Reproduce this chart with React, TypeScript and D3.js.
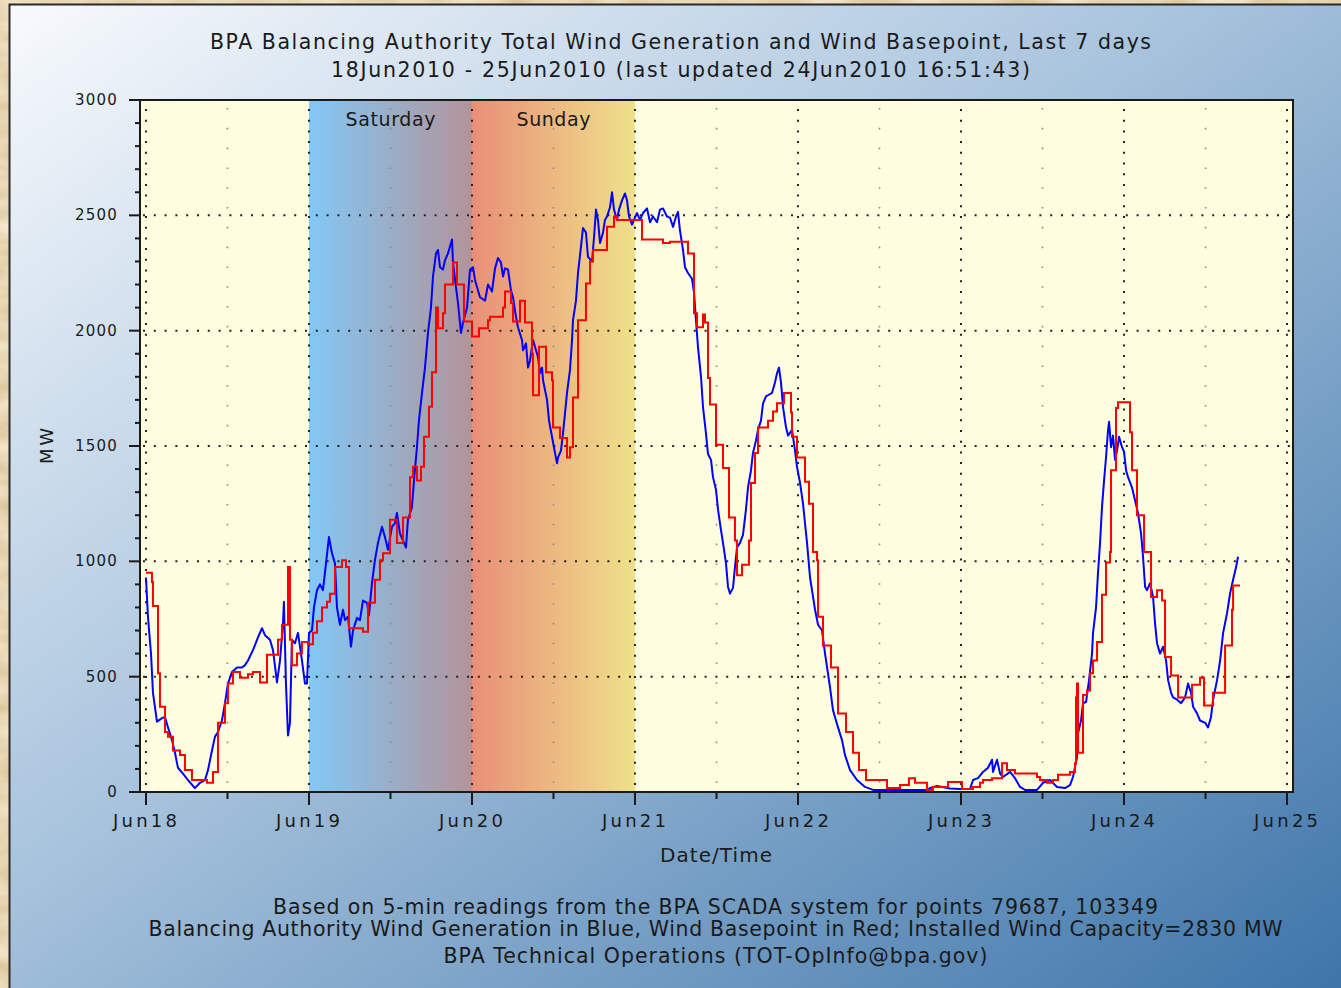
import React from "react";
import * as d3 from "d3";

// ---------- data ----------
// hours after 18Jun2010 00:00, MW
const blueHours = [0.0,0.29,0.74,1.03,1.62,2.36,2.80,3.24,3.83,4.27,4.71,5.45,6.18,7.21,7.95,8.69,9.13,9.72,10.16,10.60,11.19,11.63,12.07,12.66,13.40,14.13,14.58,15.02,15.75,16.49,17.08,17.52,18.26,18.70,19.29,19.73,20.17,20.31,20.61,20.91,21.20,21.49,21.94,22.38,22.97,23.41,23.71,24.00,24.44,24.73,25.18,25.62,26.06,26.50,26.94,27.39,27.83,28.12,28.56,29.01,29.30,29.74,30.18,30.48,31.07,31.51,31.95,32.54,32.83,33.27,33.71,34.16,34.75,35.19,35.63,36.22,36.66,36.95,37.40,37.84,38.28,38.57,39.16,39.46,39.90,40.19,40.64,41.08,41.52,41.96,42.26,42.70,42.99,43.29,43.73,44.02,44.47,45.06,45.20,45.64,45.94,46.38,46.68,47.27,47.71,48.15,48.44,49.18,49.92,50.36,50.95,51.39,51.83,52.27,52.57,52.86,53.30,53.74,54.04,54.48,54.77,55.36,55.51,55.95,56.25,56.54,56.98,57.28,57.72,58.01,58.31,58.46,59.05,59.34,59.78,60.22,60.52,60.66,61.10,61.40,61.69,61.99,62.43,62.73,62.87,63.31,63.61,64.05,64.34,64.78,65.08,65.67,65.97,66.26,66.55,66.85,67.29,67.58,67.88,68.32,68.62,68.91,69.35,69.65,70.09,70.53,70.82,71.12,71.56,71.85,72.30,72.74,73.18,73.77,74.21,74.65,75.24,75.68,76.12,76.71,77.15,77.60,78.04,78.33,78.62,79.07,79.36,79.80,80.39,80.69,80.98,81.27,81.72,82.01,82.45,82.75,83.19,83.48,83.93,84.22,84.66,84.96,85.40,85.69,85.99,86.43,86.72,87.02,87.46,87.90,88.34,88.64,89.08,89.37,89.82,90.11,90.55,90.85,91.29,91.58,92.17,92.61,92.91,93.20,93.50,93.79,94.24,94.53,95.12,95.56,95.85,96.30,96.74,97.03,97.33,97.77,98.06,98.51,98.95,99.54,99.98,100.71,101.15,101.89,102.48,102.92,103.66,104.69,105.87,107.05,111.02,115.0,115.44,116.47,118.38,119.86,121.33,121.77,122.50,123.24,123.98,124.57,124.71,125.30,125.75,126.19,127.22,127.95,128.69,129.42,131.19,132.08,133.11,134.14,135.31,136.05,136.49,137.08,137.23,137.67,137.96,138.41,138.85,139.29,139.44,139.88,140.17,140.47,140.76,141.06,141.35,141.65,141.80,142.09,142.38,142.68,142.97,143.27,143.71,144.00,144.30,144.59,145.18,145.62,146.06,146.51,146.80,147.10,147.39,147.83,148.28,148.57,148.86,149.31,149.75,150.19,150.49,150.93,151.22,151.81,152.40,152.99,153.43,153.87,154.17,154.76,155.19,155.94,156.37,156.81,157.11,157.70,158.15,158.59,159.17,159.61,160.06,160.50,160.79];
const blueMW = [930,760,600,430,305,320,325,280,225,170,105,80,52,17,40,52,95,180,240,260,310,385,470,520,540,540,550,570,615,670,710,680,660,615,475,570,730,825,470,245,300,660,645,690,570,470,470,690,700,800,875,900,875,990,1105,1035,990,800,725,790,745,760,630,700,755,745,830,820,765,905,1005,1080,1150,1105,1050,1150,1165,1210,1120,1090,1060,1180,1235,1350,1495,1610,1730,1840,1990,2100,2235,2335,2350,2275,2265,2305,2335,2395,2295,2190,2120,1990,2035,2100,2265,2275,2220,2145,2130,2200,2170,2270,2315,2295,2235,2270,2265,2175,2145,2060,2015,1960,1915,1945,1840,1870,1960,1930,1885,1815,1840,1785,1700,1610,1540,1470,1425,1450,1480,1555,1640,1730,1830,1960,2045,2130,2250,2365,2445,2425,2320,2300,2405,2525,2480,2380,2425,2480,2495,2535,2600,2525,2480,2525,2565,2595,2565,2495,2460,2480,2510,2480,2510,2530,2470,2495,2470,2525,2530,2495,2490,2450,2495,2515,2435,2350,2275,2250,2225,2165,2045,1930,1800,1670,1555,1465,1440,1365,1310,1225,1135,1080,990,890,860,885,975,1060,1080,1115,1225,1320,1395,1470,1525,1570,1610,1685,1715,1720,1730,1775,1815,1840,1775,1670,1580,1545,1570,1480,1410,1340,1250,1165,1080,930,875,790,725,700,600,455,355,280,225,160,95,52,22,9,9,9,17,26,15,13,13,52,60,87,105,140,87,140,80,65,87,60,22,9,9,40,52,22,17,30,65,150,255,310,385,390,485,600,690,800,950,1080,1235,1350,1450,1570,1605,1495,1545,1440,1480,1540,1495,1475,1395,1365,1320,1265,1210,1120,1020,890,875,905,845,730,645,600,630,570,485,430,410,400,385,410,470,430,370,340,310,300,280,325,400,485,570,690,775,860,920,975,1020];

// red basepoint is a step series: value holds from its hour until the next one
const redHours = [0.0,0.88,1.03,1.77,2.06,2.80,3.24,3.98,5.01,5.74,6.77,8.98,9.87,10.60,11.63,12.07,12.81,13.84,15.02,15.75,16.79,17.82,19.44,20.02,20.91,21.20,21.49,22.23,22.97,23.85,24.59,25.18,25.92,26.65,27.09,27.83,28.86,29.45,29.89,31.95,32.69,33.71,34.45,34.90,35.92,36.95,37.84,38.87,39.31,39.90,40.49,40.93,41.67,42.11,42.70,42.99,43.73,44.02,45.20,45.79,46.82,48.00,49.03,50.36,50.65,52.57,52.86,53.74,54.04,55.07,55.80,56.83,56.98,57.87,58.90,59.78,59.93,60.96,61.99,62.43,62.87,63.61,64.78,65.38,65.82,67.88,68.91,69.35,73.03,76.12,77.15,79.80,80.69,81.13,82.01,82.31,82.75,83.04,83.93,84.96,85.84,86.72,87.02,87.76,88.79,89.08,89.67,90.11,91.58,92.32,92.91,93.94,94.97,95.12,95.85,97.03,97.62,98.21,98.80,98.95,99.68,100.86,101.89,103.07,104.10,104.98,106.01,109.11,111.02,112.34,113.23,115.0,115.88,118.09,120.15,121.77,122.80,123.24,124.57,126.04,126.77,127.95,131.19,131.63,132.67,133.55,134.28,136.05,136.78,136.93,137.08,137.23,137.96,138.55,138.99,139.44,140.03,140.76,141.35,141.94,142.09,142.82,143.12,144.88,145.18,145.91,146.95,147.98,148.86,149.60,150.04,150.93,151.96,154.02,155.19,155.78,157.11,158.88,159.90,160.06,161.08];
const redMW = [950,910,806,515,370,260,240,180,160,95,52,40,87,300,385,470,520,495,510,520,475,595,660,725,975,660,550,600,650,640,690,740,800,825,860,975,1005,975,710,695,820,920,1005,1035,1180,1080,1190,1365,1410,1350,1410,1540,1670,1820,2100,2010,2075,2200,2295,2200,2040,1975,2010,2045,2060,2100,2170,2120,2040,2130,2035,1900,1720,1930,1820,1785,1580,1535,1450,1495,1710,2045,2205,2300,2350,2450,2495,2480,2395,2380,2385,2335,2075,2015,2070,2035,1795,1680,1505,1405,1190,1090,940,985,1090,1340,1470,1580,1610,1650,1685,1730,1645,1540,1450,1345,1250,1040,1005,760,635,540,340,260,170,95,52,17,30,60,40,9,22,43,13,22,40,52,60,125,95,80,65,52,40,52,75,87,125,410,470,170,420,440,515,570,650,855,995,1040,1395,1665,1690,1560,1395,1200,1040,845,875,830,585,505,410,465,495,375,430,635,790,895,895];

const yTicks = [0, 500, 1000, 1500, 2000, 2500, 3000];
const dayTicks = ["2010-06-18", "2010-06-19", "2010-06-20", "2010-06-21", "2010-06-22", "2010-06-23", "2010-06-24", "2010-06-25"];
const weekendLabels = ["Saturday", "Sunday"];
const weekendStarts = ["2010-06-19", "2010-06-20"];
const titleLines = [
  "BPA Balancing Authority Total Wind Generation and Wind Basepoint, Last 7 days",
  "18Jun2010 - 25Jun2010 (last updated 24Jun2010 16:51:43)",
];
const footerLines = [
  "Based on 5-min readings from the BPA SCADA system for points 79687, 103349",
  "Balancing Authority Wind Generation in Blue, Wind Basepoint in Red; Installed Wind Capacity=2830 MW",
  "BPA Technical Operations (TOT-OpInfo@bpa.gov)",
];

// ---------- layout ----------
const W = 1341, H = 988;
const PL = 140, PR = 1293, PT = 100, PB = 792;
const FONT = "'DejaVu Sans', Verdana, sans-serif";
const titleLens = [941, 699];
const footerLens = [885, 1134, 544];
const footerY = [914, 936, 963];

const parse = d3.timeParse("%Y-%m-%d");
const t0 = parse("2010-06-18")!;
const hourToDate = (h: number) => new Date(t0.getTime() + h * 3600e3);

export default function App() {
  const x = d3.scaleTime()
    .domain([hourToDate(-0.88), hourToDate(168.88)])
    .range([PL, PR]);
  const y = d3.scaleLinear().domain([0, 3000]).range([PB, PT]);

  const days = dayTicks.map((d) => parse(d)!);
  const noons = days.slice(0, -1).map((d) => d3.timeHour.offset(d, 12));
  const minorY = d3.range(0, 3001, 100);
  const fmt = d3.timeFormat("%b%d");

  const blueData = blueHours.map((h, i) => [hourToDate(h), blueMW[i]] as [Date, number]);
  const redData = redHours.map((h, i) => [hourToDate(h), redMW[i]] as [Date, number]);
  const lineBlue = d3.line<[Date, number]>().x((d) => x(d[0])).y((d) => y(d[1]));
  const lineRed = d3.line<[Date, number]>().x((d) => x(d[0])).y((d) => y(d[1])).curve(d3.curveStepAfter);

  return (
    <svg width={W} height={H} style={{ position: "absolute", left: 0, top: 0 }} fontFamily={FONT}>
      <defs>
        <linearGradient id="frameGrad" x1="0" y1="0" x2="1" y2="1">
          <stop offset="0" stopColor="#f8fafd" />
          <stop offset="0.45" stopColor="#a6c2dc" />
          <stop offset="1" stopColor="#3b73a8" />
        </linearGradient>
        <linearGradient id="satGrad" x1="0" y1="0" x2="1" y2="0">
          <stop offset="0" stopColor="#82c8f6" />
          <stop offset="1" stopColor="#b39399" />
        </linearGradient>
        <linearGradient id="sunGrad" x1="0" y1="0" x2="1" y2="0">
          <stop offset="0" stopColor="#e98f78" />
          <stop offset="1" stopColor="#efe18a" />
        </linearGradient>
        <filter id="paper" x="0" y="0" width="100%" height="100%">
          <feTurbulence type="fractalNoise" baseFrequency="0.02 0.05" numOctaves="3" seed="4" />
          <feColorMatrix type="matrix" values="0 0 0 0 0.93  0 0 0 0 0.84  0 0 0 0 0.66  0 0 0 -1.2 1.1" />
        </filter>
        <clipPath id="plotClip">
          <rect x={PL} y={PT} width={PR - PL} height={PB - PT} />
        </clipPath>
      </defs>

      {/* parchment background */}
      <rect x={0} y={0} width={W} height={H} fill="#d9c092" />
      <rect x={0} y={0} width={W} height={H} filter="url(#paper)" />

      {/* frame */}
      <rect x={9.5} y={4.5} width={W + 10} height={H + 10} fill="url(#frameGrad)" stroke="#2a2a2a" strokeWidth={2} />

      {/* title */}
      {titleLines.map((t, i) => (
        <text key={t} x={680.5} y={49 + i * 28} textAnchor="middle" fontSize={20.5} fill="#1a1a1a"
          textLength={titleLens[i]} lengthAdjust="spacing">{t}</text>
      ))}

      {/* plot background */}
      <rect x={PL} y={PT} width={PR - PL} height={PB - PT} fill="#fffddf" />
      {weekendStarts.map((s, i) => {
        const a = parse(s)!;
        const b = d3.timeDay.offset(a, 1);
        return (
          <g key={s}>
            <rect x={x(a)} y={PT} width={x(b) - x(a)} height={PB - PT} fill={i === 0 ? "url(#satGrad)" : "url(#sunGrad)"} />
            <text x={(x(a) + x(b)) / 2} y={PT + 26} textAnchor="middle" fontSize={19} fill="#1a1a1a"
              textLength={i === 0 ? 90 : 74} lengthAdjust="spacing">{weekendLabels[i]}</text>
          </g>
        );
      })}

      {/* grid */}
      <g clipPath="url(#plotClip)">
        {noons.map((d) => (
          <line key={"n" + d.getTime()} x1={x(d)} x2={x(d)} y1={PT + 8} y2={PB} stroke="#8a8a8a" strokeWidth={1.6} strokeDasharray="1.6 18.2" />
        ))}
        {yTicks.filter((v) => v > 0 && v < 3000).map((v) => (
          <line key={"h" + v} x1={PL + 3} x2={PR} y1={y(v)} y2={y(v)} stroke="#222" strokeWidth={2} strokeDasharray="2 8.8" />
        ))}
        {days.map((d) => (
          <line key={"v" + d.getTime()} x1={x(d)} x2={x(d)} y1={PT + 9} y2={PB} stroke="#222" strokeWidth={2} strokeDasharray="2 8.7" />
        ))}
      </g>

      {/* series */}
      <g clipPath="url(#plotClip)">
        <path d={lineBlue(blueData)!} fill="none" stroke="#0000ff" strokeWidth={2} strokeLinejoin="round" />
        <path d={lineRed(redData)!} fill="none" stroke="#ff0000" strokeWidth={2} />
      </g>

      {/* plot border */}
      <rect x={PL} y={PT} width={PR - PL} height={PB - PT} fill="none" stroke="#1a1a1a" strokeWidth={2} />

      {/* y axis */}
      {minorY.map((v) => (
        <line key={"ty" + v} x1={v % 500 === 0 ? PL - 11 : PL - 5} x2={PL} y1={y(v)} y2={y(v)} stroke="#1a1a1a" strokeWidth={2} />
      ))}
      {yTicks.map((v) => (
        <text key={"ly" + v} x={118} y={y(v) + 5} textAnchor="end" fontSize={15} fill="#1a1a1a" letterSpacing={1.2}>{v}</text>
      ))}
      <text transform={`translate(53,${(PT + PB) / 2})  rotate(-90)`} textAnchor="middle" fontSize={18} fill="#1a1a1a"
        textLength={36} lengthAdjust="spacing">MW</text>

      {/* x axis */}
      {days.map((d) => (
        <g key={"tx" + d.getTime()}>
          <line x1={x(d)} x2={x(d)} y1={PB} y2={PB + 13} stroke="#1a1a1a" strokeWidth={2} />
          <text x={x(d) - 1} y={PB + 35} textAnchor="middle" fontSize={18} fill="#1a1a1a"
            textLength={64} lengthAdjust="spacing">{fmt(d)}</text>
        </g>
      ))}
      {noons.map((d) => (
        <line key={"tn" + d.getTime()} x1={x(d)} x2={x(d)} y1={PB} y2={PB + 7} stroke="#1a1a1a" strokeWidth={2} />
      ))}
      <text x={716} y={862} textAnchor="middle" fontSize={20} fill="#1a1a1a" textLength={112} lengthAdjust="spacing">Date/Time</text>

      {/* footer */}
      {footerLines.map((t, i) => (
        <text key={t} x={715.5} y={footerY[i]} textAnchor="middle" fontSize={20.5} fill="#1a1a1a"
          textLength={footerLens[i]} lengthAdjust="spacing">{t}</text>
      ))}
    </svg>
  );
}
